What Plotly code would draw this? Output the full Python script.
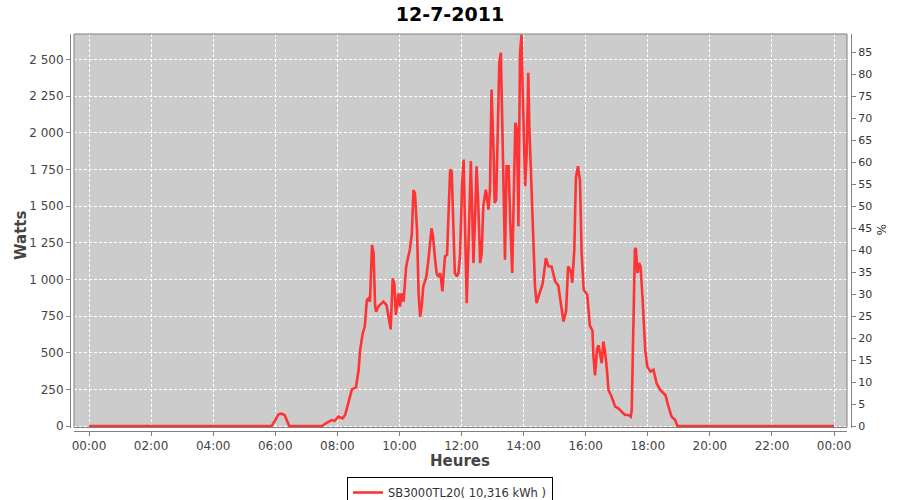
import plotly.graph_objects as go
from datetime import datetime, timedelta

# ---------------- data ----------------
title_text = "12-7-2011"
series_name = "SB3000TL20( 10,316 kWh )"
x_title = "Heures"
y_title = "Watts"
y2_title = "%"
rated_power_w = 3000  # 100 % on the right-hand axis

times = [
    "00:00", "05:53", "06:00", "06:06", "06:12", "06:18", "06:27",
    "07:30", "07:40", "07:49", "07:55", "08:02", "08:10", "08:15", "08:21",
    "08:28", "08:36", "08:41", "08:44", "08:49", "08:53", "08:57", "09:00",
    "09:03", "09:07", "09:10", "09:13", "09:15", "09:19", "09:29", "09:35",
    "09:41", "09:43", "09:47", "09:50", "09:53", "09:58", "10:01", "10:04",
    "10:08", "10:13", "10:17", "10:20", "10:24", "10:27", "10:30", "10:34",
    "10:37", "10:40", "10:43", "10:46", "10:52", "10:56", "11:02", "11:05",
    "11:09", "11:12", "11:15", "11:19", "11:23", "11:28", "11:32", "11:38",
    "11:41", "11:44", "11:47", "11:51", "11:54", "11:57", "12:01", "12:04",
    "12:07", "12:10", "12:13", "12:18", "12:21", "12:23", "12:26", "12:29",
    "12:32", "12:36", "12:39", "12:42", "12:47", "12:52", "12:55", "12:58",
    "13:02", "13:04", "13:07", "13:10", "13:13", "13:16", "13:18", "13:21",
    "13:24", "13:27", "13:31", "13:34", "13:38", "13:40", "13:44", "13:47",
    "13:50", "13:53", "13:56", "13:58", "14:03", "14:06", "14:09", "14:11",
    "14:17", "14:22", "14:25", "14:31", "14:37", "14:43", "14:48", "14:54",
    "15:01", "15:07", "15:12", "15:17", "15:22", "15:26", "15:31", "15:34",
    "15:38", "15:41", "15:45", "15:49", "15:52", "15:56", "16:03", "16:08",
    "16:13", "16:15", "16:18", "16:22", "16:25", "16:28", "16:31", "16:34",
    "16:37", "16:41", "16:44", "16:50", "16:57", "17:03", "17:10", "17:16",
    "17:23", "17:27", "17:29", "17:32", "17:35", "17:37", "17:40", "17:43",
    "17:46", "17:50", "17:55", "17:59", "18:05", "18:11", "18:17", "18:24",
    "18:34", "18:40", "18:46", "18:53", "18:57", "24:00",
]
watts = [
    0, 0, 40, 80, 85, 75, 0,
    0, 23, 41, 36, 64, 52, 75, 155,
    250, 264, 382, 518, 632, 677, 859, 870,
    848, 1234, 1177, 814, 780, 814, 848, 825,
    677, 659, 1007, 973, 757, 905, 814, 905,
    848, 1086, 1155, 1200, 1314, 1609, 1586, 1336,
    905, 745, 814, 950, 1018, 1132, 1348, 1291,
    1132, 1041, 1018, 1041, 918, 1157, 1168, 1749,
    1737, 1407, 1043, 1020, 1043, 1157, 1635, 1817,
    1362, 838, 1179, 1806, 1407, 1111, 1407, 1771,
    1544, 1111, 1179, 1498, 1612, 1475, 1612, 2295,
    1862, 1521, 1544, 2113, 2477, 2545, 2158, 1680,
    1134, 1771, 1771, 1407, 1043, 1407, 2067, 2022,
    1362, 2545, 2670, 2318, 1635, 1862, 2409, 2045,
    1498, 952, 838, 906, 975, 1145, 1090, 1088,
    986, 958, 830, 713, 780, 1088, 1060, 977,
    1202, 1690, 1771, 1670, 1190, 930, 895, 685,
    650, 474, 345, 530, 550, 500, 428, 576,
    519, 383, 246, 200, 132, 121, 98, 75,
    75, 64, 109, 747, 1202, 1214, 1043, 1111,
    1088, 861, 519, 405, 371, 383, 291, 246,
    212, 132, 64, 41, 0, 0,
]

y_tick_values = [0, 250, 500, 750, 1000, 1250, 1500, 1750, 2000, 2250, 2500]
y_tick_labels = ["0", "250", "500", "750", "1 000", "1 250", "1 500",
                 "1 750", "2 000", "2 250", "2 500"]
y2_tick_values = [0, 5, 10, 15, 20, 25, 30, 35, 40, 45, 50, 55, 60, 65, 70, 75, 80, 85]
x_tick_hours = [0, 2, 4, 6, 8, 10, 12, 14, 16, 18, 20, 22, 24]
x_tick_labels = ["00:00", "02:00", "04:00", "06:00", "08:00", "10:00", "12:00",
                 "14:00", "16:00", "18:00", "20:00", "22:00", "00:00"]

# ---------------- build ----------------
base = datetime(2011, 7, 12)


def to_dt(s):
    h, m = s.split(":")
    return base + timedelta(hours=int(h), minutes=int(m))


xs = [to_dt(t) for t in times]
pct = [w / rated_power_w * 100 for w in watts]
x_ticks = [base + timedelta(hours=h) for h in x_tick_hours]

y_lo, y_hi = -10, 2673
x_lo = base - timedelta(minutes=29)
x_hi = base + timedelta(hours=24, minutes=25)

FONT = "DejaVu Sans"
AX = "#808080"
W, H = 900, 500
ML, MR, MT, MB = 70, 49, 34, 69
PW, PH = W - ML - MR, H - MT - MB

fig = go.Figure()
fig.add_trace(go.Scatter(
    x=xs, y=watts, mode="lines", name=series_name,
    line=dict(color="#FF3333", width=2.6),
))
fig.add_trace(go.Scatter(
    x=xs, y=pct, mode="lines", yaxis="y2", showlegend=False,
    hoverinfo="skip", opacity=0, line=dict(width=0, color="rgba(0,0,0,0)"),
))

fig.update_layout(
    width=W, height=H,
    margin=dict(l=ML, r=MR, t=MT, b=MB, autoexpand=False),
    paper_bgcolor="white",
    plot_bgcolor="#CCCCCC",
    font=dict(family=FONT, size=12, color="#444444"),
    title=dict(text="<b>" + title_text + "</b>", x=0.5, xref="container",
               xanchor="center", y=1 - 14 / H, yanchor="middle",
               font=dict(family=FONT, size=19, color="black")),
    xaxis=dict(
        type="date", range=[x_lo, x_hi],
        domain=[(74 - ML) / PW, (847 - ML) / PW],
        anchor="free", position=0, automargin=False,
        tickvals=x_ticks, ticktext=x_tick_labels,
        ticks="outside", ticklen=4, tickcolor=AX,
        showline=True, linecolor=AX, linewidth=1,
        showgrid=True, gridcolor="white", gridwidth=1, griddash="3px,2px",
        zeroline=False, tickfont=dict(size=12, color="#444444"),
    ),
    yaxis=dict(
        range=[y_lo, y_hi], domain=[(H - MB - 427.5) / PH, 1],
        anchor="free", position=0, automargin=False,
        tickvals=y_tick_values, ticktext=y_tick_labels,
        ticks="outside", ticklen=4, tickcolor=AX,
        showline=True, linecolor=AX, linewidth=1,
        showgrid=True, gridcolor="white", gridwidth=1, griddash="3px,2px",
        zeroline=False, tickfont=dict(size=12, color="#444444"),
    ),
    yaxis2=dict(
        range=[y_lo / rated_power_w * 100, y_hi / rated_power_w * 100],
        domain=[(H - MB - 427.5) / PH, 1],
        overlaying="y", side="right", anchor="free", position=1,
        automargin=False,
        tickvals=y2_tick_values,
        ticks="outside", ticklen=4, tickcolor=AX,
        showline=True, linecolor=AX, linewidth=1,
        showgrid=False, zeroline=False,
        tickfont=dict(size=11, color="#333333"),
    ),
    legend=dict(
        orientation="h", xref="container", yref="container",
        x=0.5, xanchor="center", y=1 - 477 / H, yanchor="top",
        bordercolor="black", borderwidth=1, bgcolor="white",
        itemwidth=30, tracegroupgap=0,
        font=dict(size=11.5, color="#333333"),
    ),
    showlegend=True,
)

# plot border
fig.add_shape(type="rect", xref="x domain", yref="y domain",
              x0=0, x1=1, y0=0, y1=1, line=dict(color=AX, width=1),
              layer="above")

# axis titles
fig.add_annotation(text="<b>" + x_title + "</b>", xref="paper", yref="paper",
                   x=(460 - ML) / PW, y=(H - MB - 461) / PH,
                   showarrow=False, xanchor="center", yanchor="middle",
                   font=dict(size=15, color="#444444"))
fig.add_annotation(text="<b>" + y_title + "</b>", xref="paper", yref="paper",
                   x=(21 - ML) / PW, y=(H - MB - 236) / PH, textangle=-90,
                   showarrow=False, xanchor="center", yanchor="middle",
                   font=dict(size=15, color="#444444"))
fig.add_annotation(text=y2_title, xref="paper", yref="paper",
                   x=(881 - ML) / PW, y=(H - MB - 229) / PH, textangle=90,
                   showarrow=False, xanchor="center", yanchor="middle",
                   font=dict(size=12, color="#333333"))

fig.write_html("out.html",
               config={"displayModeBar": False},
               post_script="document.body.style.margin='0';"
                           "document.body.style.overflow='hidden';")
